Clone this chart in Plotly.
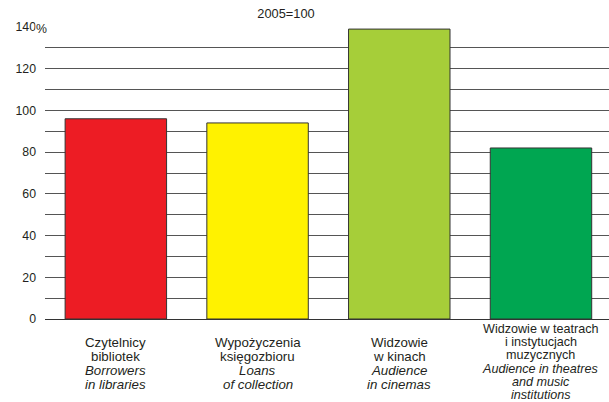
import plotly.graph_objects as go

# ---- data ----
categories = ["Czytelnicy bibliotek", "Wypożyczenia księgozbioru", "Widzowie w kinach",
              "Widzowie w teatrach i instytucjach muzycznych"]
labels_pl = [["Czytelnicy", "bibliotek"],
             ["Wypożyczenia", "księgozbioru"],
             ["Widzowie", "w kinach"],
             ["Widzowie w teatrach", "i instytucjach", "muzycznych"]]
labels_en = [["Borrowers", "in libraries"],
             ["Loans", "of collection"],
             ["Audience", "in cinemas"],
             ["Audience in theatres", "and music", "institutions"]]
values = [96, 94, 139, 82]
y_tick_vals = [0, 10, 20, 30, 40, 50, 60, 70, 80, 90, 100, 110, 120, 130, 140]
y_tick_text = ["0", "", "20", "", "40", "", "60", "", "80", "", "100", "", "120", "", "140"]
subtitle = "2005=100"

# ---- style ----
bar_colors = ["#ED1C24", "#FFF200", "#A6CE39", "#00A651"]
txt = "#231F20"
font_family = "Liberation Sans, Arial, sans-serif"
W, H = 609, 402
m_l, m_r, m_t, m_b = 45, 0, 27, 83
plot_bottom_px = H - m_b

fig = go.Figure()
fig.add_trace(go.Bar(
    x=categories, y=values, width=0.716,
    marker=dict(color=bar_colors, line=dict(color="#333333", width=1)),
    hoverinfo="skip",
))

annotations = []
# x labels, line by line
first_baseline = [347, 347, 347, 333.5]
spacing = [13.9, 13.9, 13.9, 13.2]
x_font = [13.3, 13.3, 13.3, 12.6]
for i, cat in enumerate(categories):
    lines = [(t, False) for t in labels_pl[i]] + [(t, True) for t in labels_en[i]]
    for j, (t, it) in enumerate(lines):
        baseline = first_baseline[i] + j * spacing[i]
        center = baseline - 4.6
        annotations.append(dict(
            x=cat, xref="x", y=0, yref="paper", yanchor="middle",
            yshift=-(center - plot_bottom_px),
            text=f"<i>{t}</i>" if it else t, showarrow=False,
            font=dict(family=font_family, size=x_font[i], color=txt),
        ))

# "%" after 140 label (covering start of gridline)
annotations.append(dict(
    x=(34.5 - m_l) / (W - m_l - m_r), xref="paper", xanchor="left",
    y=140, yref="y", yanchor="middle", yshift=-2,
    text="%", showarrow=False, align="left", width=28,
    bgcolor="white", borderpad=0,
    font=dict(family=font_family, size=12.3, color=txt),
))

fig.update_layout(
    width=W, height=H,
    margin=dict(l=m_l, r=m_r, t=m_t, b=m_b, pad=0),
    paper_bgcolor="white", plot_bgcolor="white",
    showlegend=False,
    bargap=0.284,
    font=dict(family=font_family, color=txt),
    title=dict(text=subtitle, x=286 / W, xanchor="center", xref="container",
               y=1 - 14 / H, yanchor="middle", yref="container",
               font=dict(family=font_family, size=12.8, color=txt)),
    xaxis=dict(range=[-0.5, 3.48], showticklabels=False, showgrid=False,
               zeroline=False, showline=True, linecolor="#333333", linewidth=1,
               ticks=""),
    yaxis=dict(range=[0, 140], tickvals=y_tick_vals, ticktext=y_tick_text,
               showgrid=True, gridcolor="#555555", gridwidth=1,
               zeroline=False, showline=False, ticks="",
               ticklabelstandoff=8,
               tickfont=dict(family=font_family, size=12.3, color=txt)),
    annotations=annotations,
)

fig.write_html(
    "out.html",
    config={"displayModeBar": False, "staticPlot": True},
    post_script="document.body.style.margin='0';document.body.style.padding='0';",
)
